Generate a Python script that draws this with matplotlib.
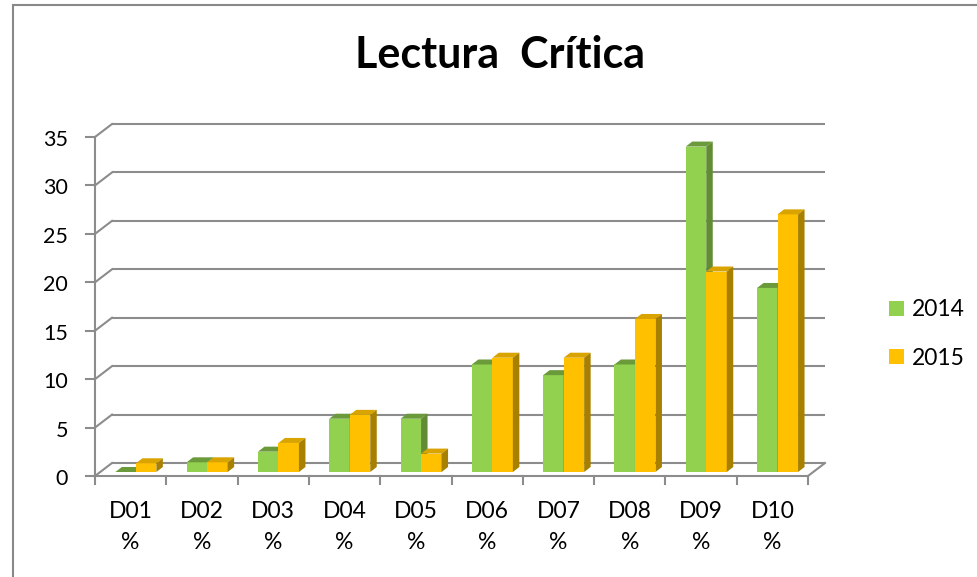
import matplotlib
matplotlib.use('agg')
import matplotlib.pyplot as plt
from matplotlib.patches import Polygon, Rectangle, Patch

plt.rcParams['font.family'] = ['Lato', 'DejaVu Sans']

categories = ['D01', 'D02', 'D03', 'D04', 'D05', 'D06', 'D07', 'D08', 'D09', 'D10']
vals_2014 = [0.0, 1.0, 2.1, 5.5, 5.5, 11.1, 10.0, 11.1, 33.6, 19.0]
vals_2015 = [0.9, 1.0, 3.0, 5.9, 1.9, 11.8, 11.8, 15.8, 20.7, 26.6]
series_names = ['2014', '2015']
y_ticks = [0, 5, 10, 15, 20, 25, 30, 35]

W, H = 977, 577
# pixel geometry of the fake 3d box
px_left, px_right = 95, 808
px_y0, px_y35 = 476, 137
px_per_cat = (px_right - px_left) / len(categories)
px_per_unit = (px_y0 - px_y35) / 35.0


def ux(px):
    return px / px_per_cat


def uy(px):
    return px / px_per_unit


wall_dx, wall_dy = ux(17), uy(13)      # back wall offset
bar_dx, bar_dy = ux(5.2), uy(4)        # bars sit a bit behind the front
dep_dx, dep_dy = ux(6.5), uy(5)        # bar depth
bar_w = ux(20.5)

grid_col = '#8c8c8c'
colors = {
    '2014': ('#92d050', '#6b9a3a', '#628c34'),   # front, top, side
    '2015': ('#ffc000', '#d9a300', '#a88000'),
}

fig = plt.figure(figsize=(W / 100, H / 100), dpi=100)
ax = fig.add_axes([px_left / W, 1 - px_y0 / H,
                   (px_right - px_left) / W, (px_y0 - px_y35) / H])
ax.set_xlim(0, len(categories))
ax.set_ylim(0, 35)
ax.axis('off')

# outer frame
fig.add_artist(Rectangle((13 / W, -0.1), 1.2, 1 - 5 / H + 0.1, transform=fig.transFigure,
                         fill=False, edgecolor='#888888', lw=1.5))

lw = 1.5
n = len(categories)
# back wall gridlines + left wall diagonals + y ticks
for v in y_ticks:
    ax.plot([wall_dx, n + wall_dx], [v + wall_dy, v + wall_dy], color=grid_col, lw=lw,
            clip_on=False, zorder=1, solid_capstyle='butt')
    ax.plot([0, wall_dx], [v, v + wall_dy], color=grid_col, lw=lw, clip_on=False, zorder=1)
    ax.plot([-ux(9), 0], [v, v], color=grid_col, lw=lw, clip_on=False, zorder=1)
    ax.text(-ux(27), v - uy(3), str(v), ha='right', va='center', fontsize=15.5)
# front axis and floor
ax.plot([0, 0], [0, 35], color=grid_col, lw=lw, clip_on=False, zorder=1)
ax.plot([0, n, n + wall_dx], [0, 0, wall_dy], color=grid_col, lw=lw, clip_on=False, zorder=1)
for i in range(n + 1):
    ax.plot([i, i], [0, -uy(8)], color=grid_col, lw=lw, clip_on=False, zorder=1)

# bars
for i, cat in enumerate(categories):
    for k, (name, vals) in enumerate(zip(series_names, [vals_2014, vals_2015])):
        v = vals[i]
        front, top, side = colors[name]
        x0 = i + 0.5 - bar_w + k * bar_w + bar_dx
        y0 = bar_dy
        x1, y1 = x0 + bar_w, y0 + v
        z = 3 + k
        ax.add_patch(Polygon([(x0, y0), (x1, y0), (x1, y1), (x0, y1)], closed=True,
                             facecolor=front, edgecolor='none', zorder=z, clip_on=False))
        ax.add_patch(Polygon([(x0, y1), (x1, y1), (x1 + dep_dx, y1 + dep_dy),
                              (x0 + dep_dx, y1 + dep_dy)], closed=True,
                             facecolor=top, edgecolor='none', zorder=z, clip_on=False))
        ax.add_patch(Polygon([(x1, y0), (x1 + dep_dx, y0 + dep_dy), (x1 + dep_dx, y1 + dep_dy),
                              (x1, y1)], closed=True,
                             facecolor=side, edgecolor='none', zorder=z, clip_on=False))
    ax.text(i + 0.5, -uy(51), cat + '\n%', ha='center', va='center', fontsize=16.5,
            linespacing=1.6)

fig.text(500 / W, 1 - 55 / H, 'Lectura  Crítica', ha='center', va='center',
         fontsize=31, fontweight='bold')

handles = [Patch(facecolor=colors[s][0]) for s in series_names]
fig.legend(handles, series_names, loc='center left', bbox_to_anchor=(868 / W, 1 - 334 / H),
           frameon=False, fontsize=16.5, handlelength=0.65, handleheight=0.65,
           handletextpad=0.35, labelspacing=1.18)

fig.savefig('out.png', dpi=100)
